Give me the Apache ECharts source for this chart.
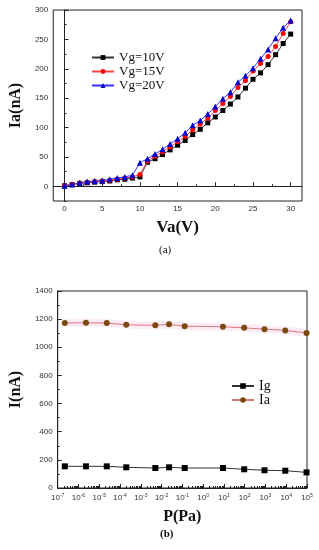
<!DOCTYPE html>
<html><head><meta charset="utf-8">
<script src="https://cdn.jsdelivr.net/npm/echarts@6/dist/echarts.min.js"></script>
<style>html,body{margin:0;padding:0;background:#fff}#c{width:319px;height:550px}</style>
</head><body><div id="c"></div>
<script>
// ---- Chart (a) data ----
const vaVolts = [0,1,2,3,4,5,6,7,8,9,10,11,12,13,14,15,16,17,18,19,20,21,22,23,24,25,26,27,28,29,30];
const iaVg10 = [1,3,5,6,7,8,9,11,12,14,16,41,47,54,62,70,78,88,97,108,118,129,140,152,167,182,193,207,224,243,259];
const iaVg15 = [1,3,5,7,8,9,10,12,14,16,20,43,51,59,67,76,85,96,106,116,129,141,153,168,180,196,209,221,238,260,280];
const iaVg20 = [1,3,6,8,9,10,12,14,16,19,40,47,55,63,72,81,91,104,112,123,136,149,160,177,188,201,217,233,252,270,282];
const aXTicks = [0,5,10,15,20,25,30];
const aXMinor = [2.5,7.5,12.5,17.5,22.5,27.5];
const aYTicks = [0,50,100,150,200,250,300];
const aYMinor = [-25,25,75,125,175,225,275];
const aNames = ['Vg=10V','Vg=15V','Vg=20V'];

// ---- Chart (b) data ----
const pressurePa = [2.2e-7,2.3e-6,2.3e-5,2e-4,5e-3,2.3e-2,1.3e-1,9,95,900,9000,9.5e4];
const igNA = [154,154,154,147,142,147,142,142,133,126,123,111];
const iaNA = [1173,1174,1172,1160,1156,1163,1150,1146,1138,1129,1120,1102];
const bXTicks = [1e-7,1e-6,1e-5,1e-4,1e-3,1e-2,1e-1,1e0,1e1,1e2,1e3,1e4,1e5];
const bYTicks = [0,200,400,600,800,1000,1200,1400];
const bYMinor = [100,300,500,700,900,1100,1300];
const bNames = ['Ig','Ia'];

const bXMinor = [];
for (let e = -7; e < 5; e++) for (let m = 2; m <= 9; m++) bXMinor.push(m * Math.pow(10, e));

const zip = (xs, ys) => xs.map((x, i) => [x, ys[i]]);
const sans = "'Liberation Sans', Arial, sans-serif";
const serif = "'Liberation Serif', 'Times New Roman', serif";
const lblStyle = {fontFamily: sans, fontSize: 8, color: '#333'};
const axLine = {show: true, lineStyle: {color: '#222', width: 1}};
const plain = v => String(v);

function mainAxis(grid, extra) {
  return Object.assign({
    gridIndex: grid, axisLine: axLine, splitLine: {show: false},
    axisTick: {inside: true, length: 4, lineStyle: {color: '#222'}}
  }, extra);
}
function minorAxis(grid, extra, ticks) {
  return Object.assign({
    gridIndex: grid, axisLine: {show: false}, splitLine: {show: false},
    axisLabel: {show: false},
    axisTick: {inside: true, length: 2, customValues: ticks, lineStyle: {color: '#222'}}
  }, extra);
}
const logFmt = v => {
  const e = Math.round(Math.log10(v));
  return '10{s|' + e + '}';
};

const chart = echarts.init(document.getElementById('c'), null, {renderer: 'canvas'});
chart.setOption({
  animation: false,
  backgroundColor: '#fff',
  grid: [
    {left: 50, top: 10, width: 252, height: 191, show: true, borderColor: '#222', borderWidth: 1, backgroundColor: 'transparent'},
    {left: 45, top: 291, width: 262, height: 197, show: true, borderColor: '#222', borderWidth: 1, backgroundColor: 'transparent'}
  ],
  xAxis: [
    mainAxis(0, {type: 'value', min: -1.5, max: 31.5, position: 'bottom',
      axisLabel: Object.assign({customValues: aXTicks, margin: 4, formatter: plain}, lblStyle),
      axisTick: {inside: true, length: 4, customValues: aXTicks, lineStyle: {color: '#222'}},
      name: 'Va(V)', nameLocation: 'middle', nameGap: 18,
      nameTextStyle: {fontFamily: serif, fontWeight: 'bold', fontSize: 17, color: '#111'}}),
    minorAxis(0, {type: 'value', min: -1.5, max: 31.5, position: 'bottom'}, aXMinor),
    mainAxis(1, {type: 'log', logBase: 10, min: 1e-7, max: 1e5, position: 'bottom',
      axisLabel: Object.assign({customValues: bXTicks, margin: 5, formatter: logFmt,
        rich: {s: {fontFamily: sans, fontSize: 5, color: '#333', verticalAlign: 'top', padding: [0,0,4,0]}}}, lblStyle),
      axisTick: {inside: true, length: 4, customValues: bXTicks, lineStyle: {color: '#222'}},
      name: 'P(Pa)', nameLocation: 'middle', nameGap: 21,
      nameTextStyle: {fontFamily: serif, fontWeight: 'bold', fontSize: 16, color: '#111'}}),
    minorAxis(1, {type: 'log', logBase: 10, min: 1e-7, max: 1e5, position: 'bottom'}, bXMinor)
  ],
  yAxis: [
    mainAxis(0, {type: 'value', min: -25, max: 300, position: 'left',
      axisLabel: Object.assign({customValues: aYTicks, margin: 5, formatter: plain}, lblStyle),
      axisTick: {inside: true, length: 4, customValues: aYTicks, lineStyle: {color: '#222'}},
      name: 'Ia(nA)', nameLocation: 'middle', nameGap: 22,
      nameTextStyle: {fontFamily: serif, fontWeight: 'bold', fontSize: 16, color: '#111'}}),
    minorAxis(0, {type: 'value', min: -25, max: 300, position: 'left'}, aYMinor),
    mainAxis(1, {type: 'value', min: 0, max: 1400, position: 'left',
      axisLabel: Object.assign({customValues: bYTicks, margin: 5, formatter: plain}, lblStyle),
      axisTick: {inside: true, length: 4, customValues: bYTicks, lineStyle: {color: '#222'}},
      name: 'I(nA)', nameLocation: 'middle', nameGap: 27,
      nameTextStyle: {fontFamily: serif, fontWeight: 'bold', fontSize: 16, color: '#111'}}),
    minorAxis(1, {type: 'value', min: 0, max: 1400, position: 'left'}, bYMinor)
  ],
  legend: [
    {data: aNames, orient: 'vertical', left: 86, top: 46, itemWidth: 22, itemHeight: 6, itemGap: 1,
      textStyle: {fontFamily: serif, fontSize: 13, color: '#111'}},
    {data: bNames, orient: 'vertical', left: 226, top: 374, itemWidth: 22, itemHeight: 7, itemGap: 0,
      textStyle: {fontFamily: serif, fontSize: 14, color: '#111'}}
  ],
  series: [
    {name: aNames[0], type: 'line', xAxisIndex: 0, yAxisIndex: 0, data: zip(vaVolts, iaVg10),
      symbol: 'rect', symbolSize: 5, itemStyle: {color: '#000'}, lineStyle: {color: '#333', width: 1}, z: 3},
    {name: aNames[1], type: 'line', xAxisIndex: 0, yAxisIndex: 0, data: zip(vaVolts, iaVg15),
      symbol: 'circle', symbolSize: 5, itemStyle: {color: '#f00'}, lineStyle: {color: '#f44', width: 1}, z: 4},
    {name: aNames[2], type: 'line', xAxisIndex: 0, yAxisIndex: 0, data: zip(vaVolts, iaVg20),
      symbol: 'triangle', symbolSize: 6, itemStyle: {color: '#0000d0'}, lineStyle: {color: '#33f', width: 1}, z: 5},
    {name: 'glow', type: 'line', xAxisIndex: 2, yAxisIndex: 2, data: zip(pressurePa, iaNA),
      symbol: 'none', silent: true, lineStyle: {color: 'rgba(252,220,238,0.55)', width: 8}, z: 1},
    {name: bNames[0], type: 'line', xAxisIndex: 2, yAxisIndex: 2, data: zip(pressurePa, igNA),
      symbol: 'rect', symbolSize: 6, itemStyle: {color: '#000'}, lineStyle: {color: '#333', width: 1}, z: 3},
    {name: bNames[1], type: 'line', xAxisIndex: 2, yAxisIndex: 2, data: zip(pressurePa, iaNA),
      symbol: 'circle', symbolSize: 6, itemStyle: {color: '#7a4a10'}, lineStyle: {color: '#e07878', width: 1}, z: 3}
  ],
  graphic: [
    {type: 'text', left: 159, top: 245, style: {text: '(a)', fontFamily: serif, fontSize: 11, fill: '#111'}},
    {type: 'text', left: 160, top: 529, style: {text: '(b)', fontFamily: serif, fontSize: 11, fill: '#111', fontWeight: 'bold'}}
  ]
});
</script>
</body></html>
